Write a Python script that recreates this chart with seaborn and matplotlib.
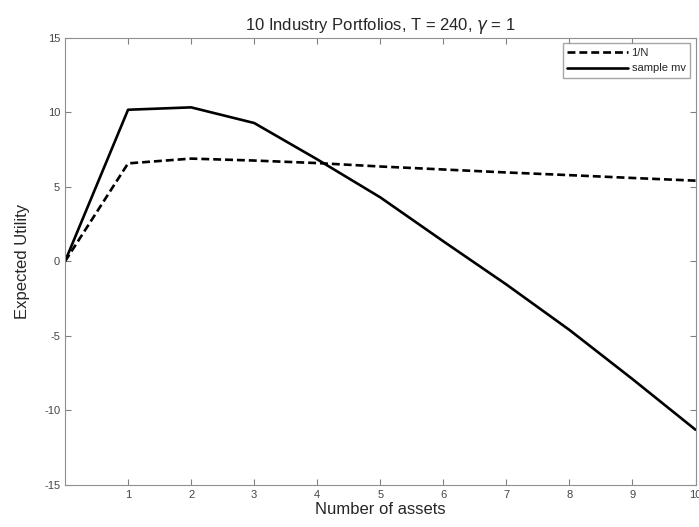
import pandas as pd
import seaborn as sns
import matplotlib.pyplot as plt

# values
n_assets = [0, 1, 2, 3, 4, 5, 6, 7, 8, 9, 10]
one_over_n = [0, 6.58, 6.9, 6.77, 6.6, 6.37, 6.17, 5.97, 5.79, 5.6, 5.42]
sample_mv = [0, 10.18, 10.34, 9.29, 6.85, 4.3, 1.35, -1.55, -4.6, -7.9, -11.3]

data = pd.DataFrame({
    'N': n_assets * 2,
    'EU': one_over_n + sample_mv,
    'rule': ['1/N'] * len(n_assets) + ['sample mv'] * len(n_assets),
})

sns.set_style('ticks')
plt.rcParams['font.family'] = ['Liberation Sans', 'DejaVu Sans']
plt.rcParams['axes.unicode_minus'] = False

fig = plt.figure(figsize=(6.99, 5.27), dpi=100)
ax = fig.add_axes([0.093, 0.08, 0.902, 0.848])

sns.lineplot(data=data, x='N', y='EU', hue='rule', style='rule',
             palette=['black', 'black'], dashes=[(3, 1.5), ''],
             linewidth=1.9, ax=ax)

ax.set_xlim(0, 10)
ax.set_ylim(-15, 15)
ax.set_xticks(range(1, 11))
ax.set_yticks(range(-15, 16, 5))
ax.tick_params(direction='in', top=True, right=True, length=4,
               labelsize=8, colors='#808080', labelcolor='#444444')
for s in ax.spines.values():
    s.set_color('#909090')
    s.set_visible(True)

ax.set_title(r'10 Industry Portfolios, T = 240, $\gamma$ = 1', fontsize=12, pad=6)
ax.set_xlabel('Number of assets', fontsize=12, labelpad=2)
ax.set_ylabel('Expected Utility', fontsize=12, labelpad=10)

leg = ax.legend(loc='upper right', fontsize=8, handlelength=5.5,
                frameon=True, fancybox=False, edgecolor='#909090',
                borderaxespad=0.5, labelspacing=0.5, handletextpad=0.3)
leg.set_title(None)

fig.savefig('out.png', dpi=100)
